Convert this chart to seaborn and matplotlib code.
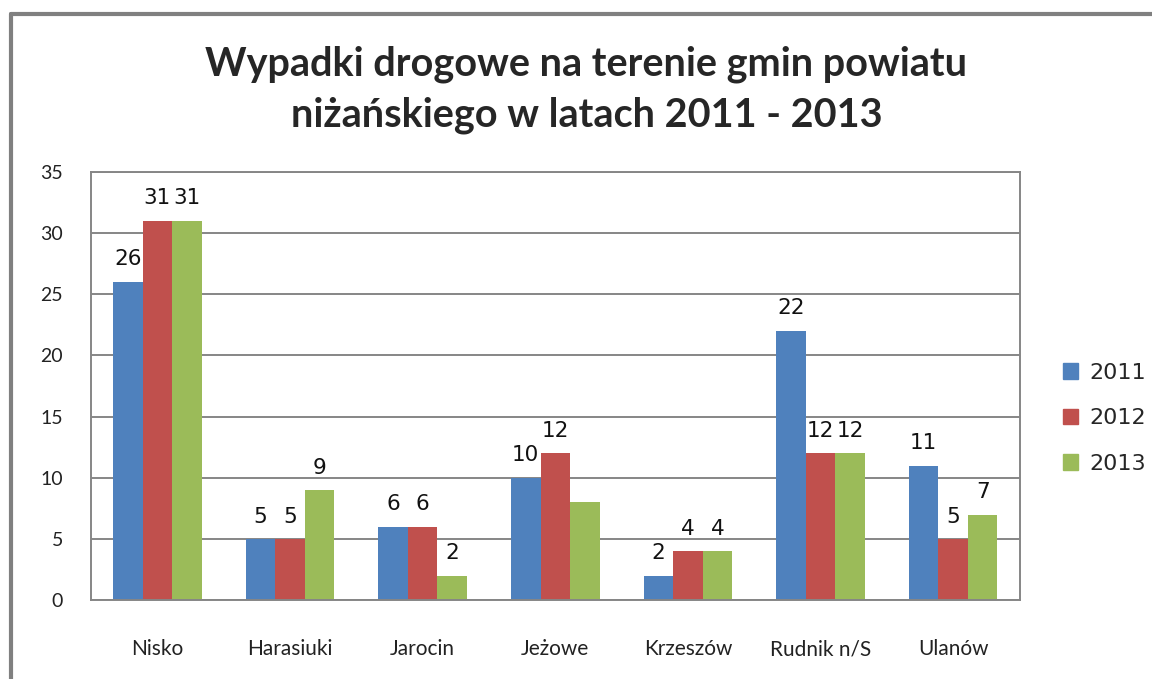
import seaborn as sns
import matplotlib.pyplot as plt
from matplotlib.lines import Line2D
import pandas as pd

# Data
gminy = ["Nisko", "Harasiuki", "Jarocin", "Jeżowe", "Krzeszów", "Rudnik n/S", "Ulanów"]
years = ["2011", "2012", "2013"]
v2011 = [26, 5, 6, 10, 2, 22, 11]
v2012 = [31, 5, 6, 12, 4, 12, 5]
v2013 = [31, 9, 2, 8, 4, 12, 7]
hidden_labels = [("Jeżowe", "2013")]  # label not shown in the original

frame = pd.DataFrame({"gmina": gminy * 3,
                      "rok": [y for y in years for _ in gminy],
                      "wypadki": v2011 + v2012 + v2013})

colors = ["#4F81BD", "#C0504D", "#9BBB59"]
grid_c = "#868686"

sns.set_theme(style="white")
plt.rcParams['font.family'] = ['Lato', 'DejaVu Sans']

fig = plt.figure(figsize=(11.52, 6.79), dpi=100)
ax = fig.add_axes([0.079, 0.116, 0.806, 0.631])

sns.barplot(data=frame, x="gmina", y="wypadki", hue="rok", palette=colors,
            width=0.667, gap=0, saturation=1, linewidth=0, ax=ax, legend=True)

ax.set_ylim(0, 35)
ax.set_yticks(range(0, 36, 5))
ax.set_xlim(-0.5, len(gminy) - 0.5)
ax.yaxis.grid(True, color=grid_c, linewidth=1.4)
ax.set_axisbelow(True)
for s in ax.spines.values():
    s.set_color(grid_c)
    s.set_linewidth(1.4)
ax.set_xlabel("")
ax.set_ylabel("")
ax.tick_params(axis="y", labelsize=14, pad=20, length=0, labelcolor="#222222")
ax.tick_params(axis="x", labelsize=15, pad=28, length=0, labelcolor="#222222")

# data labels
for cont, yr in zip(ax.containers, years):
    for bar, g in zip(cont, gminy):
        if (g, yr) in hidden_labels:
            continue
        h = bar.get_height()
        ax.annotate(f"{int(h)}", (bar.get_x() + bar.get_width() / 2, h),
                    xytext=(0, 9), textcoords="offset points",
                    ha="center", va="bottom", fontsize=15.5,
                    family="DejaVu Sans", color="#111111")

handles = [plt.Rectangle((0, 0), 1, 1, color=c) for c in colors]
ax.legend(handles, years, loc="center left", bbox_to_anchor=(1.025, 0.425),
          frameon=False, prop={"family": "DejaVu Sans", "size": 16},
          handlelength=0.7, handleheight=0.7, labelspacing=1.15, handletextpad=0.5)

fig.text(0.509, 0.868, "Wypadki drogowe na terenie gmin powiatu\nniżańskiego w latach 2011 - 2013",
         ha="center", va="center", fontsize=28.5, fontweight="bold", linespacing=1.45)

# outer chart border (top and left visible)
fig.add_artist(Line2D([0.0095, 1], [0.979, 0.979], color="#808080", lw=3, transform=fig.transFigure))
fig.add_artist(Line2D([0.0095, 0.0095], [0, 0.979], color="#808080", lw=3, transform=fig.transFigure))

fig.savefig("out.png", dpi=100, facecolor="white")
